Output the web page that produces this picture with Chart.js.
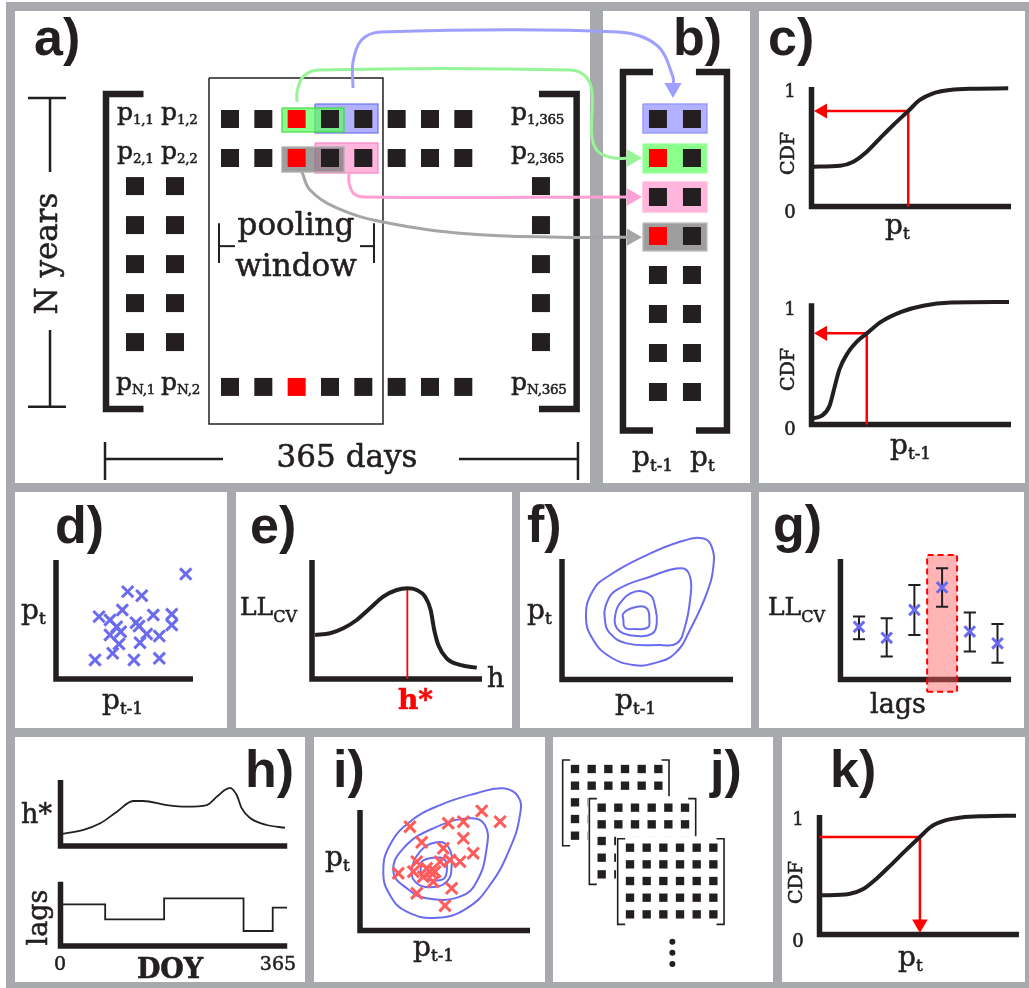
<!DOCTYPE html>
<html lang="en">
<head>
<meta charset="utf-8">
<title>Pooling window, lag pairs and copula fit</title>
<script src="https://cdn.jsdelivr.net/npm/chart.js@4.4.1/dist/chart.umd.min.js"></script>
<style>
  html, body { margin: 0; padding: 0; background: #fff; }
  #fig { position: relative; width: 1029px; height: 988px; overflow: hidden; background: #fff; }
  #frame { position: absolute; left: 6px; top: 2px; right: 0; bottom: 0; background: #a7a9ac; }
  .panel { position: absolute; background: #fff; }
  canvas { position: absolute; }
  .t { position: absolute; white-space: nowrap; color: #231f20; font-family: 'DejaVu Serif', 'Liberation Serif', serif;
       -webkit-text-stroke: 0.55px currentColor; }
  .t sub { font-size: 0.6em; vertical-align: baseline; position: relative; top: 0.28em; line-height: 0; }
  .t sub.m { font-size: 0.54em; letter-spacing: -0.3px; }
  .t sub.cv { font-size: 0.64em; top: 0.44em; }
  .t.tag { font-family: 'Liberation Sans', Arial, sans-serif; font-weight: bold; -webkit-text-stroke: 0; }
</style>
</head>
<body>
<div id="fig"><div id="frame"></div></div>
<script>
// ---------------- a) / b): daily matrix, pooling window, lag pairs ----------------
const innerCols = [0, 1, 2, 3, 4, 5, 6, 7];
const fullRows = [0, 1, 6.87];
const edgeCols = [-2.85, -1.65, 9.33];
const edgeRows = [1.72, 2.72, 3.72, 4.72, 5.72];
const redCellsA = [[2, 0], [2, 1], [2, 6.87]];
const pairCols = [12.84, 13.86];
const pairRows = [0, 1, 2, 3, 4, 5, 6, 7];
const redCellsB = [[12.84, 1], [12.84, 3]];

const poolWindow = [-0.63, -1.05, 4.59, 7.82];
const hiBlueA = [2.55, -0.385, 4.44, 0.359];
const hiGreenA = [1.56, -0.282, 3.42, 0.333];
const hiPinkA = [2.55, 0.615, 4.44, 1.385];
const hiGreyA = [1.56, 0.718, 3.42, 1.359];
const hiBlueB = [12.39, -0.385, 14.31, 0.359];
const hiGreenB = [12.39, 0.641, 14.31, 1.385];
const hiPinkB = [12.39, 1.615, 14.31, 2.385];
const hiGreyB = [12.39, 2.667, 14.31, 3.385];

const bracketAL = [[-2.595, -0.641], [-3.72, -0.641], [-3.72, 7.436], [-2.595, 7.436]];
const bracketAR = [[9.27, -0.641], [10.40, -0.641], [10.40, 7.436], [9.27, 7.436]];
const bracketBL = [[12.69, -1.205], [11.79, -1.205], [11.79, 7.987], [12.69, 7.987]];
const bracketBR = [[13.98, -1.205], [14.91, -1.205], [14.91, 7.987], [13.98, 7.987]];

const poolTickL = [[-0.33, 2.67], [-0.33, 3.69]];
const poolStemL = [[-0.33, 3.26], [0.15, 3.26]];
const poolTickR = [[4.32, 2.67], [4.32, 3.69]];
const poolStemR = [[3.90, 3.26], [4.32, 3.26]];
const yearsCapTop = [[-6.06, -0.54], [-4.92, -0.54]];
const yearsStemTop = [[-5.4, -0.54], [-5.4, 1.36]];
const yearsStemBot = [[-5.4, 5.41], [-5.4, 7.38]];
const yearsCapBot = [[-6.06, 7.38], [-4.92, 7.38]];
const daysCapL = [[-3.75, 8.28], [-3.75, 9.256]];
const daysStemL = [[-3.75, 8.718], [-0.21, 8.718]];
const daysStemR = [[6.87, 8.718], [10.44, 8.718]];
const daysCapR = [[10.44, 8.28], [10.44, 9.256]];

const arrowBlue = [[3.69, -0.795], [3.69, -1.46], [3.94, -2.02], [4.53, -2.23], [11.64, -2.23], [12.81, -1.89], [13.29, -1.08], [13.29, -0.795]];
const arrowGreen = [[2.01, -0.436], [2.01, -0.692], [2.20, -1.092], [2.67, -1.256], [10.20, -1.256], [10.67, -1.092], [10.86, -0.692], [10.86, 0.449], [11.05, 0.84], [11.52, 1.0], [12.06, 1.0]];
const arrowPink = [[3.57, 1.40], [3.57, 1.628], [3.70, 1.90], [4.02, 2.0], [12.06, 2.0]];
const arrowGrey = [[2.16, 1.36], [2.40, 1.82], [3.15, 2.26], [4.59, 2.64], [7.20, 2.95], [9.90, 3.03], [12.06, 3.03]];

// ---------------- c) marginal CDFs ----------------
const cdfPtX = [0.01, 0.143, 0.21, 0.277, 0.343, 0.41, 0.485, 0.543, 0.61, 0.694, 0.81, 0.986];
const cdfPtY = [0.336, 0.344, 0.378, 0.462, 0.575, 0.688, 0.806, 0.899, 0.955, 0.983, 0.994, 0.997];
const cdfPrevX = [0.0, 0.05, 0.09, 0.115, 0.14, 0.18, 0.23, 0.277, 0.35, 0.45, 0.56, 0.7, 0.99];
const cdfPrevY = [0.05, 0.07, 0.15, 0.3, 0.45, 0.58, 0.68, 0.744, 0.84, 0.92, 0.97, 0.995, 1.0];
const pickPt = 0.485;
const pickPrev = 0.277;

// ---------------- d) lag-1 scatter ----------------
const scatterPrev = [0.285, 0.414, 0.569, 0.754, 0.947, 0.523, 0.626, 0.314, 0.484, 0.710, 0.845, 0.443, 0.584, 0.394, 0.472, 0.845, 0.662, 0.754, 0.613, 0.460, 0.394, 0.606];
const scatterCur = [0.160, 0.216, 0.160, 0.174, 0.882, 0.734, 0.700, 0.524, 0.580, 0.538, 0.544, 0.439, 0.473, 0.370, 0.397, 0.454, 0.378, 0.361, 0.305, 0.294, 0.496, 0.445];

// ---------------- e) cross-validated likelihood vs bandwidth ----------------
const bandwidth = [0.018, 0.106, 0.184, 0.263, 0.341, 0.419, 0.498, 0.561, 0.616, 0.665, 0.698, 0.719, 0.743, 0.792, 0.871, 0.969];
const llByBandwidth = [0.370, 0.384, 0.426, 0.496, 0.594, 0.692, 0.748, 0.762, 0.748, 0.692, 0.580, 0.412, 0.286, 0.174, 0.118, 0.095];

// ---------------- f) kernel density contours ----------------
const densOuter = [[0.140, 0.521], [0.183, 0.743], [0.281, 0.867], [0.476, 1.019], [0.690, 1.143], [0.827, 1.171], [0.876, 1.101], [0.885, 0.935], [0.846, 0.714], [0.758, 0.438], [0.661, 0.217], [0.534, 0.134], [0.417, 0.120], [0.281, 0.189], [0.183, 0.328]];
const densMid = [[0.251, 0.494], [0.261, 0.633], [0.320, 0.743], [0.515, 0.853], [0.700, 0.923], [0.749, 0.853], [0.749, 0.660], [0.719, 0.438], [0.671, 0.300], [0.573, 0.286], [0.378, 0.300], [0.281, 0.383]];
const densInner = [[0.310, 0.521], [0.339, 0.633], [0.427, 0.729], [0.515, 0.701], [0.544, 0.604], [0.554, 0.466], [0.525, 0.378], [0.437, 0.361], [0.359, 0.383], [0.316, 0.438]];
const densCore = [[0.359, 0.549], [0.427, 0.599], [0.495, 0.591], [0.511, 0.494], [0.501, 0.430], [0.427, 0.419], [0.368, 0.430], [0.359, 0.494]];

// ---------------- g) likelihood per lag ----------------
const lags = [1, 2, 3, 4, 5, 6];
const llMean = [0.437, 0.346, 0.577, 0.764, 0.398, 0.300];
const llLow = [0.334, 0.190, 0.369, 0.604, 0.232, 0.140];
const llHigh = [0.523, 0.509, 0.784, 0.923, 0.555, 0.461];

// ---------------- h) bandwidth and lag by day of year ----------------
const doyBw = [0, 37, 64, 91, 117, 133, 171, 203, 236, 252, 266, 273, 284, 292, 305, 332, 362];
const bwByDoy = [0.2, 0.267, 0.378, 0.572, 0.75, 0.75, 0.683, 0.655, 0.683, 0.822, 0.94, 0.97, 0.85, 0.63, 0.47, 0.35, 0.305];
const doyLag = [0, 72, 167, 295, 342, 365];
const lagByDoy = [0.695, 0.445, 0.795, 0.25, 0.638, 0.638];
const doyTicks = [0, 365];

// ---------------- i) simulated pairs over the density ----------------
const simOuter = [[0.137, 0.488], [0.176, 0.710], [0.294, 0.903], [0.471, 1.041], [0.686, 1.139], [0.843, 1.180], [0.931, 1.110], [0.941, 0.959], [0.882, 0.682], [0.765, 0.378], [0.628, 0.184], [0.451, 0.106], [0.275, 0.156], [0.176, 0.295]];
const simMid = [[0.196, 0.488], [0.255, 0.682], [0.431, 0.848], [0.647, 0.931], [0.735, 0.876], [0.745, 0.682], [0.686, 0.405], [0.588, 0.281], [0.392, 0.267], [0.275, 0.350]];
const simInner = [[0.304, 0.488], [0.353, 0.654], [0.451, 0.732], [0.519, 0.695], [0.539, 0.544], [0.510, 0.405], [0.412, 0.359], [0.334, 0.392]];
const simCore = [[0.363, 0.571], [0.431, 0.604], [0.5, 0.585], [0.510, 0.488], [0.490, 0.427], [0.412, 0.419], [0.363, 0.446], [0.357, 0.510]];
const simPrev = [0.294, 0.519, 0.608, 0.716, 0.824, 0.363, 0.490, 0.608, 0.666, 0.588, 0.529, 0.334, 0.225, 0.392, 0.441, 0.372, 0.431, 0.539, 0.334, 0.5, 0.471, 0.314, 0.412];
const simCur = [0.861, 0.890, 0.903, 0.992, 0.903, 0.732, 0.682, 0.765, 0.641, 0.571, 0.585, 0.571, 0.475, 0.516, 0.488, 0.446, 0.405, 0.350, 0.309, 0.206, 0.571, 0.488, 0.488];

// ---------------- j) stacked simulated series ----------------
const jCols = [0, 1, 2, 3, 4, 5];
const jRows = [0, 1, 2, 3, 4];
const jShifts = [[0, 0], [1.6, 2.32], [3.3, 4.72]];
const jDotsY = [10.36, 11.02, 11.7];

// ---------------- k) back-transform ----------------
const cdfOutX = [0.013, 0.15, 0.22, 0.29, 0.36, 0.44, 0.511, 0.57, 0.64, 0.72, 0.84, 1.0];
const cdfOutY = [0.33, 0.34, 0.38, 0.47, 0.58, 0.71, 0.821, 0.91, 0.96, 0.985, 0.996, 1.0];
const pickOut = 0.511;

// ================= drawing =================
const INK = '#231f20', RED = '#ff0000', BLUE = '#6b6bef', XRED = '#ff5b5b';
const HIDE = 'rgba(0,0,0,0)';
const fig = document.getElementById('fig');

const PANELS = {
  a: [15, 11, 590, 483], b: [603, 11, 750, 483], c: [759, 11, 1025, 483],
  d: [15, 492, 227, 728], e: [236, 492, 512, 728], f: [520, 492, 751, 728], g: [759, 492, 1024, 728],
  h: [15, 737, 305, 982], i: [314, 737, 545, 982], j: [553, 737, 773, 982], k: [782, 737, 1025, 982]
};
Object.values(PANELS).forEach(([l, t, r, b]) => {
  const d = document.createElement('div');
  d.className = 'panel';
  Object.assign(d.style, { left: l + 'px', top: t + 'px', width: (r - l) + 'px', height: (b - t) + 'px' });
  fig.appendChild(d);
});

const xy = pts => pts.map(([x, y]) => ({ x, y }));
const zip = (xs, ys) => xs.map((x, i) => [x, ys[i]]);
const grid = (cols, rows) => cols.flatMap(c => rows.map(r => [c, r]));
const inList = list => ([x, y]) => list.some(([a, b]) => a === x && b === y);

function path(pts, color, width, extra) {
  return Object.assign({ data: xy(pts), showLine: true, borderColor: color, borderWidth: width,
    pointRadius: 0, pointHoverRadius: 0, fill: false, tension: 0,
    borderCapStyle: 'butt', borderJoinStyle: 'miter' }, extra || {});
}
function marks(pts, style, radius, color, extra) {
  return Object.assign({ data: xy(pts), showLine: false, pointStyle: style, pointRadius: radius,
    pointBackgroundColor: color, pointBorderColor: color, pointBorderWidth: 0 }, extra || {});
}
function box([x0, y0, x1, y1], fillColor, lineColor, extra) {
  return path([[x0, y0], [x1, y0], [x1, y1], [x0, y1], [x0, y0]], lineColor, 1.5,
    Object.assign({ fill: 'shape', backgroundColor: fillColor }, extra || {}));
}
function loop(pts, color, width) {
  const n = pts.length;
  return path([pts[n - 1], ...pts, pts[0], pts[1]], color, width, {
    tension: 0.45,
    segment: { borderColor: c => (c.p0DataIndex === 0 || c.p0DataIndex === n + 1) ? HIDE : undefined }
  });
}
function arrow(pts, color, width, head, rot, tension) {
  return [path(pts, color, width, { tension: tension || 0 }),
          marks([pts[pts.length - 1]], 'triangle', head, color, { pointRotation: rot })];
}
const axis = (top, right, left = 0) => path([[left, top], [left, 0], [right, 0]], INK, 5.5);
const crosses = (pts, color, r) => marks(pts, 'crossRot', r, color, { pointBorderWidth: 3 });

function plot(panelBox, fr, sets) {
  const [L, T, R, B] = panelBox;
  const cv = document.createElement('canvas');
  cv.width = R - L; cv.height = B - T;
  Object.assign(cv.style, { left: L + 'px', top: T + 'px', width: (R - L) + 'px', height: (B - T) + 'px' });
  fig.appendChild(cv);
  const n = sets.length;
  sets.forEach((d, i) => { d.order = n - i; d.clip = false; });
  const yScale = fr.down
    ? { type: 'linear', display: false, bounds: 'data', reverse: true, min: (T - fr.oy) / fr.uy, max: (B - fr.oy) / fr.uy }
    : { type: 'linear', display: false, bounds: 'data', min: (fr.oy - B) / fr.uy, max: (fr.oy - T) / fr.uy };
  return new Chart(cv, {
    type: 'scatter',
    data: { datasets: sets },
    options: {
      responsive: false, animation: false, events: [], devicePixelRatio: 1,
      layout: { padding: 0, autoPadding: false },
      plugins: { legend: { display: false }, tooltip: { enabled: false } },
      scales: {
        x: { type: 'linear', display: false, bounds: 'data', min: (L - fr.ox) / fr.ux, max: (R - fr.ox) / fr.ux },
        y: yScale
      }
    }
  });
}

// ---- a) + b) share one canvas so the arrows can cross the divider ----
const cellsA = [...grid(innerCols, fullRows), ...grid(edgeCols, edgeRows)];
const cellsB = grid(pairCols, pairRows);
const abSets = [
  box(poolWindow, HIDE, INK, { fill: false }),
  ...[poolTickL, poolStemL, poolTickR, poolStemR].map(p => path(p, INK, 2)),
  ...[yearsCapTop, yearsStemTop, yearsStemBot, yearsCapBot, daysCapL, daysStemL, daysStemR, daysCapR].map(p => path(p, INK, 2.5)),
  ...[bracketAL, bracketAR, bracketBL, bracketBR].map(p => path(p, INK, 6.5)),
  box(hiBlueA, 'rgba(135,135,255,0.65)', 'rgba(110,110,245,0.8)'),
  box(hiPinkA, 'rgba(255,150,205,0.7)', 'rgba(250,130,195,0.8)'),
  box(hiGreenA, 'rgba(90,255,90,0.7)', 'rgba(70,215,70,0.8)'),
  box(hiGreyA, 'rgba(120,120,120,0.72)', 'rgba(175,175,175,0.9)'),
  box(hiBlueB, 'rgba(135,135,255,0.65)', 'rgba(150,150,255,0.9)'),
  box(hiGreenB, 'rgba(90,255,90,0.7)', 'rgba(160,255,160,0.9)'),
  box(hiPinkB, 'rgba(255,150,205,0.7)', 'rgba(255,185,220,0.9)'),
  box(hiGreyB, 'rgba(120,120,120,0.72)', 'rgba(190,190,190,0.9)'),
  marks(cellsA.filter(p => !inList(redCellsA)(p)), 'rect', 12.73, INK),
  marks(redCellsA, 'rect', 12.73, RED),
  marks(cellsB.filter(p => !inList(redCellsB)(p)), 'rect', 12.73, INK),
  marks(redCellsB, 'rect', 12.73, RED),
  ...arrow(arrowGrey, '#a6a6a6', 3, 10, 90, 0.4),
  ...arrow(arrowPink, '#ff9fd3', 3, 10, 90, 0.35),
  ...arrow(arrowGreen, '#96f596', 3, 10, 90, 0.35),
  ...arrow(arrowBlue, '#9f9fff', 3, 10, 180, 0.35)
];
plot([15, 11, 750, 483], { ox: 230, oy: 119, ux: 33.33, uy: 39, down: true }, abSets);

// ---- c) two CDF look-ups ----
const cdfAt = (xs, ys, x) => ys[xs.indexOf(x)];
const ptLevel = cdfAt(cdfPtX, cdfPtY, pickPt);
plot(PANELS.c, { ox: 811.5, oy: 206.5, ux: 199.5, uy: 118.5 }, [
  axis(1.008, 1.0),
  ...arrow([[pickPt, 0], [pickPt, ptLevel], [0.056, ptLevel]], RED, 2.5, 8.7, 270),
  path(zip(cdfPtX, cdfPtY), INK, 4, { cubicInterpolationMode: 'monotone' })
]);
const prevLevel = cdfAt(cdfPrevX, cdfPrevY, pickPrev);
plot(PANELS.c, { ox: 811.5, oy: 424.5, ux: 199.5, uy: 122.5 }, [
  axis(0.99, 1.0),
  ...arrow([[pickPrev, 0], [pickPrev, prevLevel], [0.056, prevLevel]], RED, 2.5, 8.7, 270),
  path(zip(cdfPrevX, cdfPrevY), INK, 4, { cubicInterpolationMode: 'monotone' })
]);

// ---- d) scatter of consecutive days ----
plot(PANELS.d, { ox: 56, oy: 679, ux: 137, uy: 119 }, [
  axis(1, 1),
  crosses(zip(scatterPrev, scatterCur), BLUE, 8)
]);

// ---- e) likelihood against bandwidth ----
const bestLL = Math.max(...llByBandwidth);
const bestBw = bandwidth[llByBandwidth.indexOf(bestLL)];
plot(PANELS.e, { ox: 312, oy: 679, ux: 170, uy: 119 }, [
  axis(1, 1),
  path([[bestBw, 0], [bestBw, bestLL]], RED, 1.8),
  path(zip(bandwidth, llByBandwidth), INK, 4, { cubicInterpolationMode: 'monotone' })
]);

// ---- f) density contours ----
plot(PANELS.f, { ox: 562, oy: 679.5, ux: 171, uy: 120.5 }, [
  axis(1, 1),
  ...[densOuter, densMid, densInner, densCore].map(c => loop(c, BLUE, 2))
]);

// ---- g) likelihood per lag with the chosen lag ----
const bestLag = lags[llMean.indexOf(Math.max(...llMean))];
const capHalf = 0.22;
const errPts = lags.flatMap((k, i) => [
  [k - capHalf, llHigh[i]], [k + capHalf, llHigh[i]], [k, null],
  [k, llHigh[i]], [k, llLow[i]], [k, null],
  [k - capHalf, llLow[i]], [k + capHalf, llLow[i]], [k, null]
]);
plot(PANELS.g, { ox: 831.3, oy: 679.5, ux: 27.7, uy: 120.5 }, [
  axis(1, 6.49, 0.33),
  box([bestLag - 0.54, -0.101, bestLag + 0.54, 1.033], 'rgba(255,90,90,0.45)', RED, { borderWidth: 2, borderDash: [6, 4] }),
  path(errPts, INK, 2),
  crosses(zip(lags, llMean), BLUE, 7.5)
]);

// ---- h) seasonal bandwidth and lag ----
plot(PANELS.h, { ox: 60.5, oy: 846, ux: 0.6205, uy: 60 }, [
  axis(1.1, 365.4),
  path(zip(doyBw, bwByDoy), INK, 1.8, { cubicInterpolationMode: 'monotone' })
]);
plot(PANELS.h, { ox: 60.5, oy: 946, ux: 0.6205, uy: 60 }, [
  axis(1.07, 365.4),
  path(zip(doyLag, lagByDoy), INK, 1.8, { stepped: 'before' })
]);

// ---- i) simulated pairs ----
plot(PANELS.i, { ox: 360, oy: 930.5, ux: 170, uy: 120.5 }, [
  axis(1, 1),
  ...[simOuter, simMid, simInner, simCore].map(c => loop(c, BLUE, 2)),
  crosses(zip(simPrev, simCur), XRED, 8)
]);

// ---- j) stacked simulated matrices ----
const jBox = [-0.74, -0.54, 5.64, 4.6];
const jSerif = 0.45;
const jSets = [];
jShifts.forEach(([dx, dy]) => {
  const [x0, y0, x1, y1] = jBox;
  jSets.push(box([x0 + dx - 0.1, y0 + dy - 0.15, x1 + dx + 0.1, y1 + dy + 0.1], '#ffffff', HIDE, { borderWidth: 0 }));
  jSets.push(path([[x0 + jSerif + dx, y0 + dy], [x0 + dx, y0 + dy], [x0 + dx, y1 + dy], [x0 + jSerif + dx, y1 + dy]], INK, 1.6));
  jSets.push(path([[x1 - jSerif + dx, y0 + dy], [x1 + dx, y0 + dy], [x1 + dx, y1 + dy], [x1 - jSerif + dx, y1 + dy]], INK, 1.6));
  jSets.push(marks(grid(jCols, jRows).map(([c, r]) => [c + dx, r + dy]), 'rect', 5.9, INK));
});
jSets.push(marks(jDotsY.map(y => [5.84, y]), 'circle', 3, INK));
plot(PANELS.j, { ox: 575, oy: 769, ux: 16.67, uy: 16.67, down: true }, jSets);

// ---- k) inverse CDF to a precipitation value ----
const outLevel = cdfAt(cdfOutX, cdfOutY, pickOut);
plot(PANELS.k, { ox: 819.5, oy: 934.5, ux: 196.5, uy: 118.8 }, [
  axis(1.006, 1.015),
  ...arrow([[0, outLevel], [pickOut, outLevel], [pickOut, 0.088]], RED, 2.5, 9, 180),
  path(zip(cdfOutX, cdfOutY), INK, 4, { cubicInterpolationMode: 'monotone' })
]);

// ================= text =================
function label(html, x, y, o = {}) {
  const size = o.size || 28;
  const el = document.createElement('div');
  el.className = o.tag ? 't tag' : 't';
  el.innerHTML = html;
  el.style.fontSize = size + 'px';
  el.style.lineHeight = size + 'px';
  if (o.bold) el.style.fontWeight = 'bold';
  if (o.color) el.style.color = o.color;
  el.style.left = x + 'px';
  if (o.rot) {
    el.style.top = (y - size / 2) + 'px';
    el.style.transform = 'translateX(-50%) rotate(-90deg)';
  } else {
    el.style.top = (y - (o.tag ? 0.8465 : 0.846) * size) + 'px';
    if (o.center) el.style.transform = 'translateX(-50%)';
  }
  fig.appendChild(el);
}

[['a)', 34, 55], ['b)', 673, 55], ['c)', 768, 55], ['d)', 55, 543], ['e)', 250, 543],
 ['f)', 527, 542], ['g)', 773, 542], ['h)', 245, 787], ['i)', 333, 787], ['j)', 710, 787], ['k)', 830, 787]]
  .forEach(([s, x, y]) => label(s, x, y, { tag: true, size: 52 }));

// a)
[['1,1', 117, 120], ['1,2', 161, 120], ['1,365', 511, 120],
 ['2,1', 117, 159], ['2,2', 161, 159], ['2,365', 511, 159],
 ['N,1', 116, 390], ['N,2', 161, 390], ['N,365', 511, 390]]
  .forEach(([s, x, y]) => label('p<sub class="m">' + s + '</sub>', x, y, { size: 25 }));
label('pooling', 296, 235, { size: 31, center: true });
label('window', 296, 276, { size: 31, center: true });
label('N years', 46, 253, { size: 31, rot: true });
label('365 days', 347, 467, { size: 31, center: true });
// b)
label('p<sub>t-1</sub>', 632, 467, { size: 28 });
label('p<sub>t</sub>', 690, 467, { size: 28 });
// c)
label('1', 790, 97, { size: 18, center: true });
label('0', 790, 218, { size: 18, center: true });
label('CDF', 787, 153, { size: 19, rot: true });
label('p<sub>t</sub>', 885, 235, { size: 28 });
label('1', 790, 315, { size: 18, center: true });
label('0', 790, 435, { size: 18, center: true });
label('CDF', 787, 369, { size: 19, rot: true });
label('p<sub>t-1</sub>', 890, 455, { size: 28 });
// d)
label('p<sub>t</sub>', 21, 620, { size: 28 });
label('p<sub>t-1</sub>', 102, 710, { size: 28 });
// e)
label('LL<sub class="cv">CV</sub>', 240, 615, { size: 25 });
label('h', 487, 687, { size: 27 });
label('h*', 398, 710, { size: 28, bold: true, color: RED });
// f)
label('p<sub>t</sub>', 527, 620, { size: 28 });
label('p<sub>t-1</sub>', 615, 710, { size: 28 });
// g)
label('LL<sub class="cv">CV</sub>', 768, 615, { size: 25 });
label('lags', 898, 713, { size: 27, center: true });
// h)
label('h*', 21, 823, { size: 27 });
label('lags', 37, 917, { size: 27, rot: true });
label(String(doyTicks[0]), 60, 970, { size: 19, center: true });
label(String(doyTicks[1]), 278, 970, { size: 19, center: true });
label('DOY', 170, 978, { size: 27, bold: true, center: true });
// i)
label('p<sub>t</sub>', 325, 867, { size: 28 });
label('p<sub>t-1</sub>', 413, 957, { size: 28 });
// k)
label('1', 798, 825, { size: 18, center: true });
label('0', 798, 947, { size: 18, center: true });
label('CDF', 795, 882, { size: 19, rot: true });
label('p<sub>t</sub>', 898, 967, { size: 28 });
</script>
</body>
</html>
